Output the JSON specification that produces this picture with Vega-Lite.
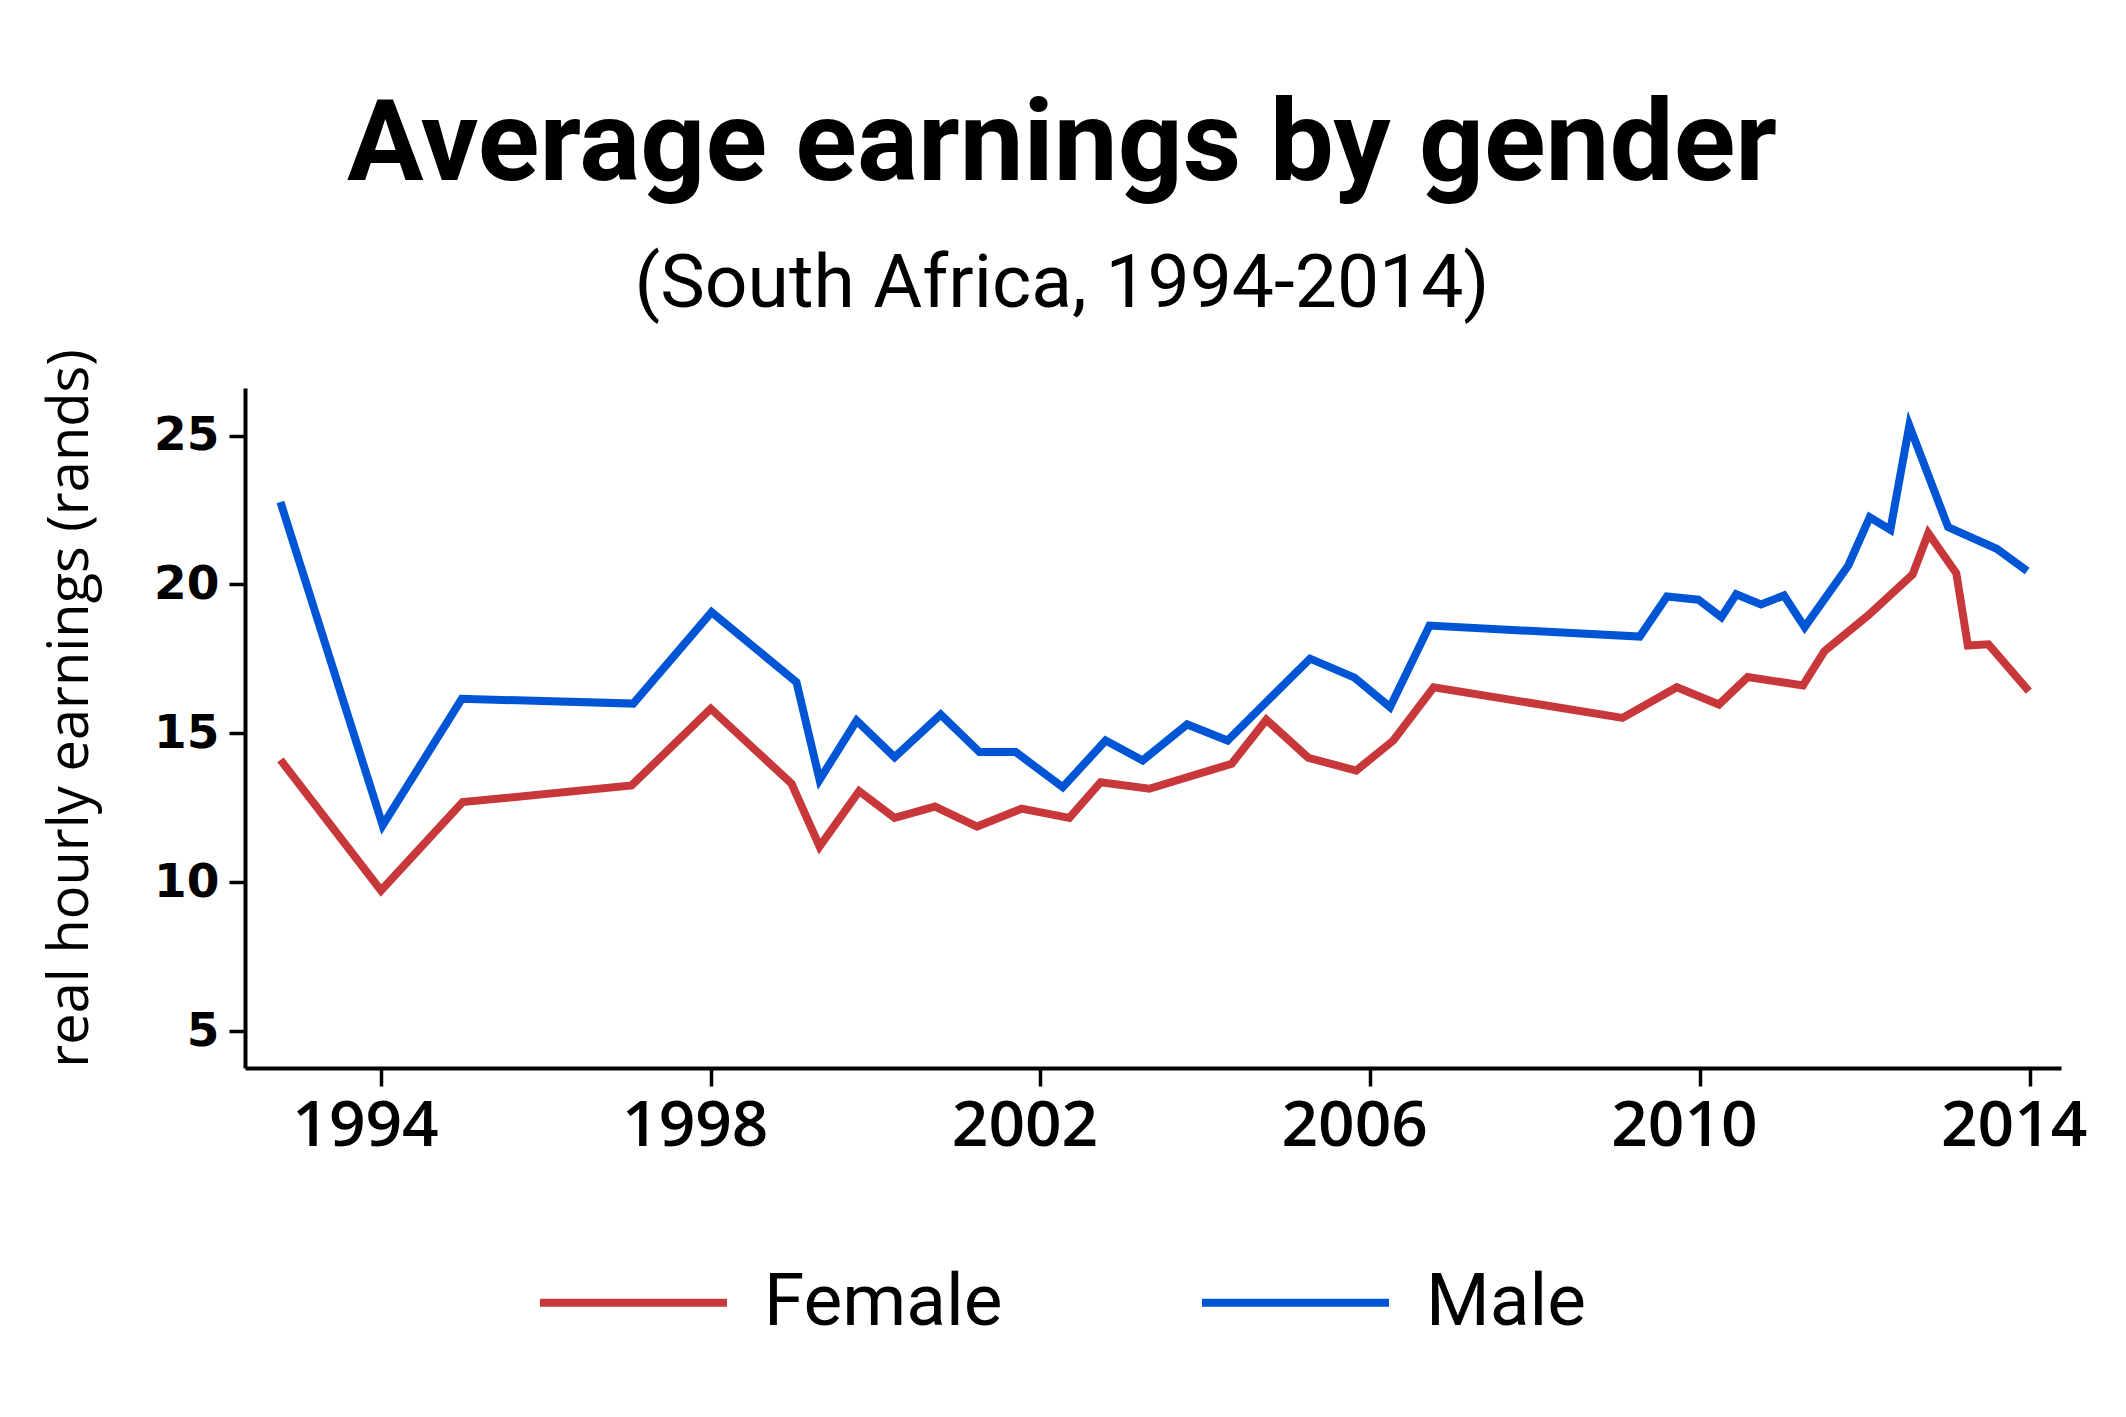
{
  "$schema": "https://vega.github.io/schema/vega-lite/v6.json",
  "width": 1816,
  "height": 680,
  "autosize": "none",
  "padding": {"left": 245, "top": 388, "right": 65, "bottom": 349},
  "background": "white",
  "title": {
    "text": "Average earnings by gender",
    "subtitle": "(South Africa, 1994-2014)",
    "anchor": "middle",
    "dx": -91,
    "font": "Roboto",
    "fontSize": 114,
    "fontWeight": "bold",
    "color": "black",
    "subtitleFont": "Roboto",
    "subtitleFontSize": 75,
    "subtitleColor": "black",
    "subtitlePadding": 44,
    "offset": 26
  },
  "data": {
    "values": [
      {"year": 1992.78, "earnings": 14.11, "gender": "Female"},
      {"year": 1994.00, "earnings": 9.72, "gender": "Female"},
      {"year": 1994.99, "earnings": 12.69, "gender": "Female"},
      {"year": 1997.04, "earnings": 13.25, "gender": "Female"},
      {"year": 1998.00, "earnings": 15.83, "gender": "Female"},
      {"year": 1998.98, "earnings": 13.31, "gender": "Female"},
      {"year": 1999.32, "earnings": 11.20, "gender": "Female"},
      {"year": 1999.80, "earnings": 13.06, "gender": "Female"},
      {"year": 2000.23, "earnings": 12.16, "gender": "Female"},
      {"year": 2000.72, "earnings": 12.54, "gender": "Female"},
      {"year": 2001.23, "earnings": 11.87, "gender": "Female"},
      {"year": 2001.77, "earnings": 12.47, "gender": "Female"},
      {"year": 2002.35, "earnings": 12.16, "gender": "Female"},
      {"year": 2002.73, "earnings": 13.36, "gender": "Female"},
      {"year": 2003.32, "earnings": 13.14, "gender": "Female"},
      {"year": 2004.32, "earnings": 13.98, "gender": "Female"},
      {"year": 2004.74, "earnings": 15.46, "gender": "Female"},
      {"year": 2005.25, "earnings": 14.18, "gender": "Female"},
      {"year": 2005.83, "earnings": 13.75, "gender": "Female"},
      {"year": 2006.28, "earnings": 14.76, "gender": "Female"},
      {"year": 2006.77, "earnings": 16.55, "gender": "Female"},
      {"year": 2009.06, "earnings": 15.52, "gender": "Female"},
      {"year": 2009.72, "earnings": 16.55, "gender": "Female"},
      {"year": 2010.23, "earnings": 15.97, "gender": "Female"},
      {"year": 2010.58, "earnings": 16.89, "gender": "Female"},
      {"year": 2011.25, "earnings": 16.61, "gender": "Female"},
      {"year": 2011.51, "earnings": 17.76, "gender": "Female"},
      {"year": 2012.04, "earnings": 18.96, "gender": "Female"},
      {"year": 2012.58, "earnings": 20.34, "gender": "Female"},
      {"year": 2012.77, "earnings": 21.72, "gender": "Female"},
      {"year": 2013.11, "earnings": 20.38, "gender": "Female"},
      {"year": 2013.25, "earnings": 17.95, "gender": "Female"},
      {"year": 2013.50, "earnings": 17.99, "gender": "Female"},
      {"year": 2013.99, "earnings": 16.42, "gender": "Female"},
      {"year": 1992.78, "earnings": 22.77, "gender": "Male"},
      {"year": 1994.02, "earnings": 11.91, "gender": "Male"},
      {"year": 1994.98, "earnings": 16.16, "gender": "Male"},
      {"year": 1997.06, "earnings": 16.00, "gender": "Male"},
      {"year": 1998.01, "earnings": 19.07, "gender": "Male"},
      {"year": 1999.04, "earnings": 16.72, "gender": "Male"},
      {"year": 1999.32, "earnings": 13.44, "gender": "Male"},
      {"year": 1999.77, "earnings": 15.43, "gender": "Male"},
      {"year": 2000.23, "earnings": 14.20, "gender": "Male"},
      {"year": 2000.79, "earnings": 15.63, "gender": "Male"},
      {"year": 2001.26, "earnings": 14.37, "gender": "Male"},
      {"year": 2001.70, "earnings": 14.37, "gender": "Male"},
      {"year": 2002.27, "earnings": 13.19, "gender": "Male"},
      {"year": 2002.79, "earnings": 14.76, "gender": "Male"},
      {"year": 2003.24, "earnings": 14.09, "gender": "Male"},
      {"year": 2003.78, "earnings": 15.30, "gender": "Male"},
      {"year": 2004.27, "earnings": 14.76, "gender": "Male"},
      {"year": 2005.27, "earnings": 17.51, "gender": "Male"},
      {"year": 2005.81, "earnings": 16.87, "gender": "Male"},
      {"year": 2006.24, "earnings": 15.88, "gender": "Male"},
      {"year": 2006.72, "earnings": 18.62, "gender": "Male"},
      {"year": 2009.27, "earnings": 18.25, "gender": "Male"},
      {"year": 2009.60, "earnings": 19.60, "gender": "Male"},
      {"year": 2009.98, "earnings": 19.49, "gender": "Male"},
      {"year": 2010.26, "earnings": 18.90, "gender": "Male"},
      {"year": 2010.44, "earnings": 19.67, "gender": "Male"},
      {"year": 2010.74, "earnings": 19.33, "gender": "Male"},
      {"year": 2011.02, "earnings": 19.63, "gender": "Male"},
      {"year": 2011.27, "earnings": 18.57, "gender": "Male"},
      {"year": 2011.80, "earnings": 20.64, "gender": "Male"},
      {"year": 2012.06, "earnings": 22.26, "gender": "Male"},
      {"year": 2012.31, "earnings": 21.84, "gender": "Male"},
      {"year": 2012.54, "earnings": 25.34, "gender": "Male"},
      {"year": 2013.01, "earnings": 21.93, "gender": "Male"},
      {"year": 2013.60, "earnings": 21.20, "gender": "Male"},
      {"year": 2013.97, "earnings": 20.45, "gender": "Male"}
    ]
  },
  "mark": {"type": "line", "strokeWidth": 8, "strokeJoin": "miter", "strokeCap": "butt", "strokeMiterLimit": 10},
  "encoding": {
    "x": {
      "field": "year",
      "type": "quantitative",
      "scale": {"domain": [1992.35, 2014.38], "nice": false, "zero": false},
      "axis": {
        "title": null,
        "values": [1994, 1998, 2002, 2006, 2010, 2014],
        "format": "d",
        "grid": false,
        "domainColor": "black",
        "domainWidth": 4,
        "tickColor": "black",
        "tickWidth": 3.5,
        "tickSize": 18,
        "labelFont": "Open Sans",
        "labelFontSize": 64,
        "labelFontWeight": 600,
        "labelColor": "black",
        "labelPadding": 8,
        "labelOffset": -16,
        "labelFlush": false
      }
    },
    "y": {
      "field": "earnings",
      "type": "quantitative",
      "scale": {"domain": [3.76, 26.6], "nice": false, "zero": false},
      "axis": {
        "title": "real hourly earnings (rands)",
        "values": [5, 10, 15, 20, 25],
        "grid": false,
        "domainColor": "black",
        "domainWidth": 4,
        "tickColor": "black",
        "tickWidth": 3.5,
        "tickSize": 16,
        "labelFont": "DejaVu Sans",
        "labelFontSize": 47,
        "labelFontWeight": "bold",
        "labelColor": "black",
        "labelPadding": 10,
        "labelFlush": false,
        "titleFont": "Open Sans",
        "titleFontSize": 56,
        "titleFontWeight": "normal",
        "titleColor": "black",
        "titleAngle": -90,
        "titleAlign": "center",
        "titleBaseline": "alphabetic",
        "titleX": -158,
        "titleY": 320
      }
    },
    "color": {
      "field": "gender",
      "type": "nominal",
      "scale": {"domain": ["Female", "Male"], "range": ["#c8383a", "#0055d5"]},
      "legend": {
        "title": null,
        "orient": "none",
        "legendX": 291,
        "legendY": 817,
        "direction": "horizontal",
        "symbolType": "stroke",
        "symbolSize": 34969,
        "symbolStrokeWidth": 8,
        "labelFont": "Roboto",
        "labelFontSize": 73,
        "labelColor": "black",
        "labelOffset": 33,
        "labelLimit": 500,
        "columnPadding": 183
      }
    }
  },
  "config": {
    "view": {"stroke": null}
  }
}
